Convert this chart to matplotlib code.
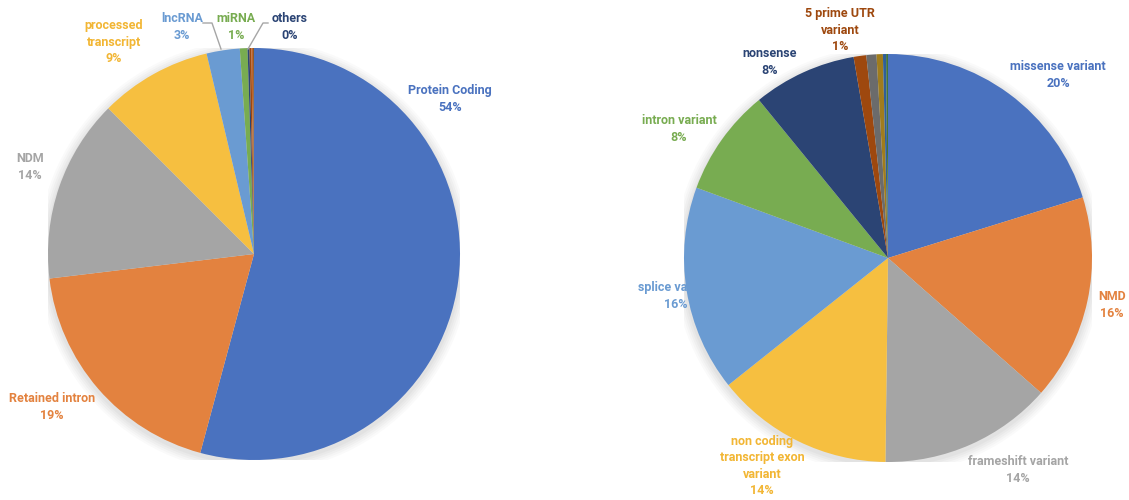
import matplotlib.pyplot as plt
from matplotlib.patches import Circle

# Left pie: transcript biotypes
left_labels = ['Protein Coding', 'Retained intron', 'NDM', 'processed\ntranscript',
               'lncRNA', 'miRNA', 'others', '', '', '']
left_values = [54.2, 18.9, 14.4, 8.8, 2.6, 0.6, 0.15, 0.15, 0.12, 0.08]
left_pct = ['54%', '19%', '14%', '9%', '3%', '1%', '0%']
left_colors = ['#4A72BF', '#E3823F', '#A5A5A5', '#F6BF40', '#6A9BD2', '#78AC51',
               '#2B4474', '#9E480E', '#C0632A', '#8A5A2A']

# Right pie: variant consequences
right_labels = ['missense variant', 'NMD', 'frameshift variant',
                'non coding\ntranscript exon\nvariant', 'splice variant',
                'intron variant', 'nonsense', '5 prime UTR\nvariant', '', '', '', '']
right_values = [20.2, 16.3, 13.7, 14.1, 16.3, 8.5, 8.2, 1.0, 0.8, 0.5, 0.25, 0.15]
right_pct = ['20%', '16%', '14%', '14%', '16%', '8%', '8%', '1%']
right_colors = ['#4A72BF', '#E3823F', '#A5A5A5', '#F6BF40', '#6A9BD2', '#78AC51',
                '#2B4474', '#9E480E', '#6B6B6B', '#A07C1C', '#2F5F98', '#44743A']

plt.rcParams['font.family'] = ['Roboto', 'DejaVu Sans']
W, H = 1129, 500
fig = plt.figure(figsize=(W / 100, H / 100), dpi=100)


def make_axes(cx, cy, r):
    ax = fig.add_axes([(cx - r) / W, (H - cy - r) / H, 2 * r / W, 2 * r / H])
    return ax


def shadow(ax):
    # soft grey halo that Excel draws under the pie
    for i, a in enumerate([0.04, 0.04, 0.05, 0.05, 0.06]):
        ax.add_patch(Circle((0.0, -0.012), 1.0 + 0.01 * (5 - i), color='#808080',
                            alpha=a, lw=0, zorder=0))


def draw_pie(ax, values, colors, text_items, line_items):
    shadow(ax)
    wedges, _ = ax.pie(values, colors=colors, startangle=90, counterclock=False,
                       radius=1.0, wedgeprops=dict(linewidth=0))
    for w in wedges:
        w.set_zorder(3)
    for (x, y, s, c) in text_items:
        ax.text(x, y, s, color=c, ha='center', va='center', fontsize=9,
                fontweight='bold', linespacing=1.35, zorder=2)
    for xs, ys in line_items:
        ax.plot(xs, ys, color='#A6A6A6', lw=1.0, zorder=4, clip_on=False)
    ax.set_xlim(-1, 1)
    ax.set_ylim(-1, 1)
    ax.set_aspect('equal')
    ax.axis('off')


# left pie geometry (pixels)
lcx, lcy, lr = 254, 254, 206


def lp(px, py):
    return (px - lcx) / lr, (lcy - py) / lr


left_pos = [(450, 99), (52, 407), (30, 167), (114, 42), (182, 27), (236, 27), (290, 27)]
left_text = []
for i, (px, py) in enumerate(left_pos):
    x, y = lp(px, py)
    lab = left_labels[i] + '\n' + left_pct[i]
    col = left_colors[i]
    if i == 3:
        col = '#F2B634'
    left_text.append((x, y, lab, col))

left_lines = []
for pts in [[(203, 23), (212, 23), (221, 49)], [(268, 23), (263, 23), (248, 49)]]:
    xy = [lp(px, py) for px, py in pts]
    left_lines.append(([p[0] for p in xy], [p[1] for p in xy]))

axl = make_axes(lcx, lcy, lr)
draw_pie(axl, left_values, left_colors, left_text, left_lines)

# right pie geometry (pixels)
rcx, rcy, rr = 888, 258, 204


def rp(px, py):
    return (px - rcx) / rr, (rcy - py) / rr


right_pos = [(1058, 75), (1112, 305), (1018, 470), (762, 466), (676, 296),
             (679, 129), (770, 62), (840, 30)]
right_text = []
for i, (px, py) in enumerate(right_pos):
    x, y = rp(px, py)
    lab = right_labels[i] + '\n' + right_pct[i]
    col = right_colors[i]
    if i == 3:
        col = '#F2B634'
    right_text.append((x, y, lab, col))

axr = make_axes(rcx, rcy, rr)
draw_pie(axr, right_values, right_colors, right_text, [])

fig.savefig('out.png', dpi=100)
